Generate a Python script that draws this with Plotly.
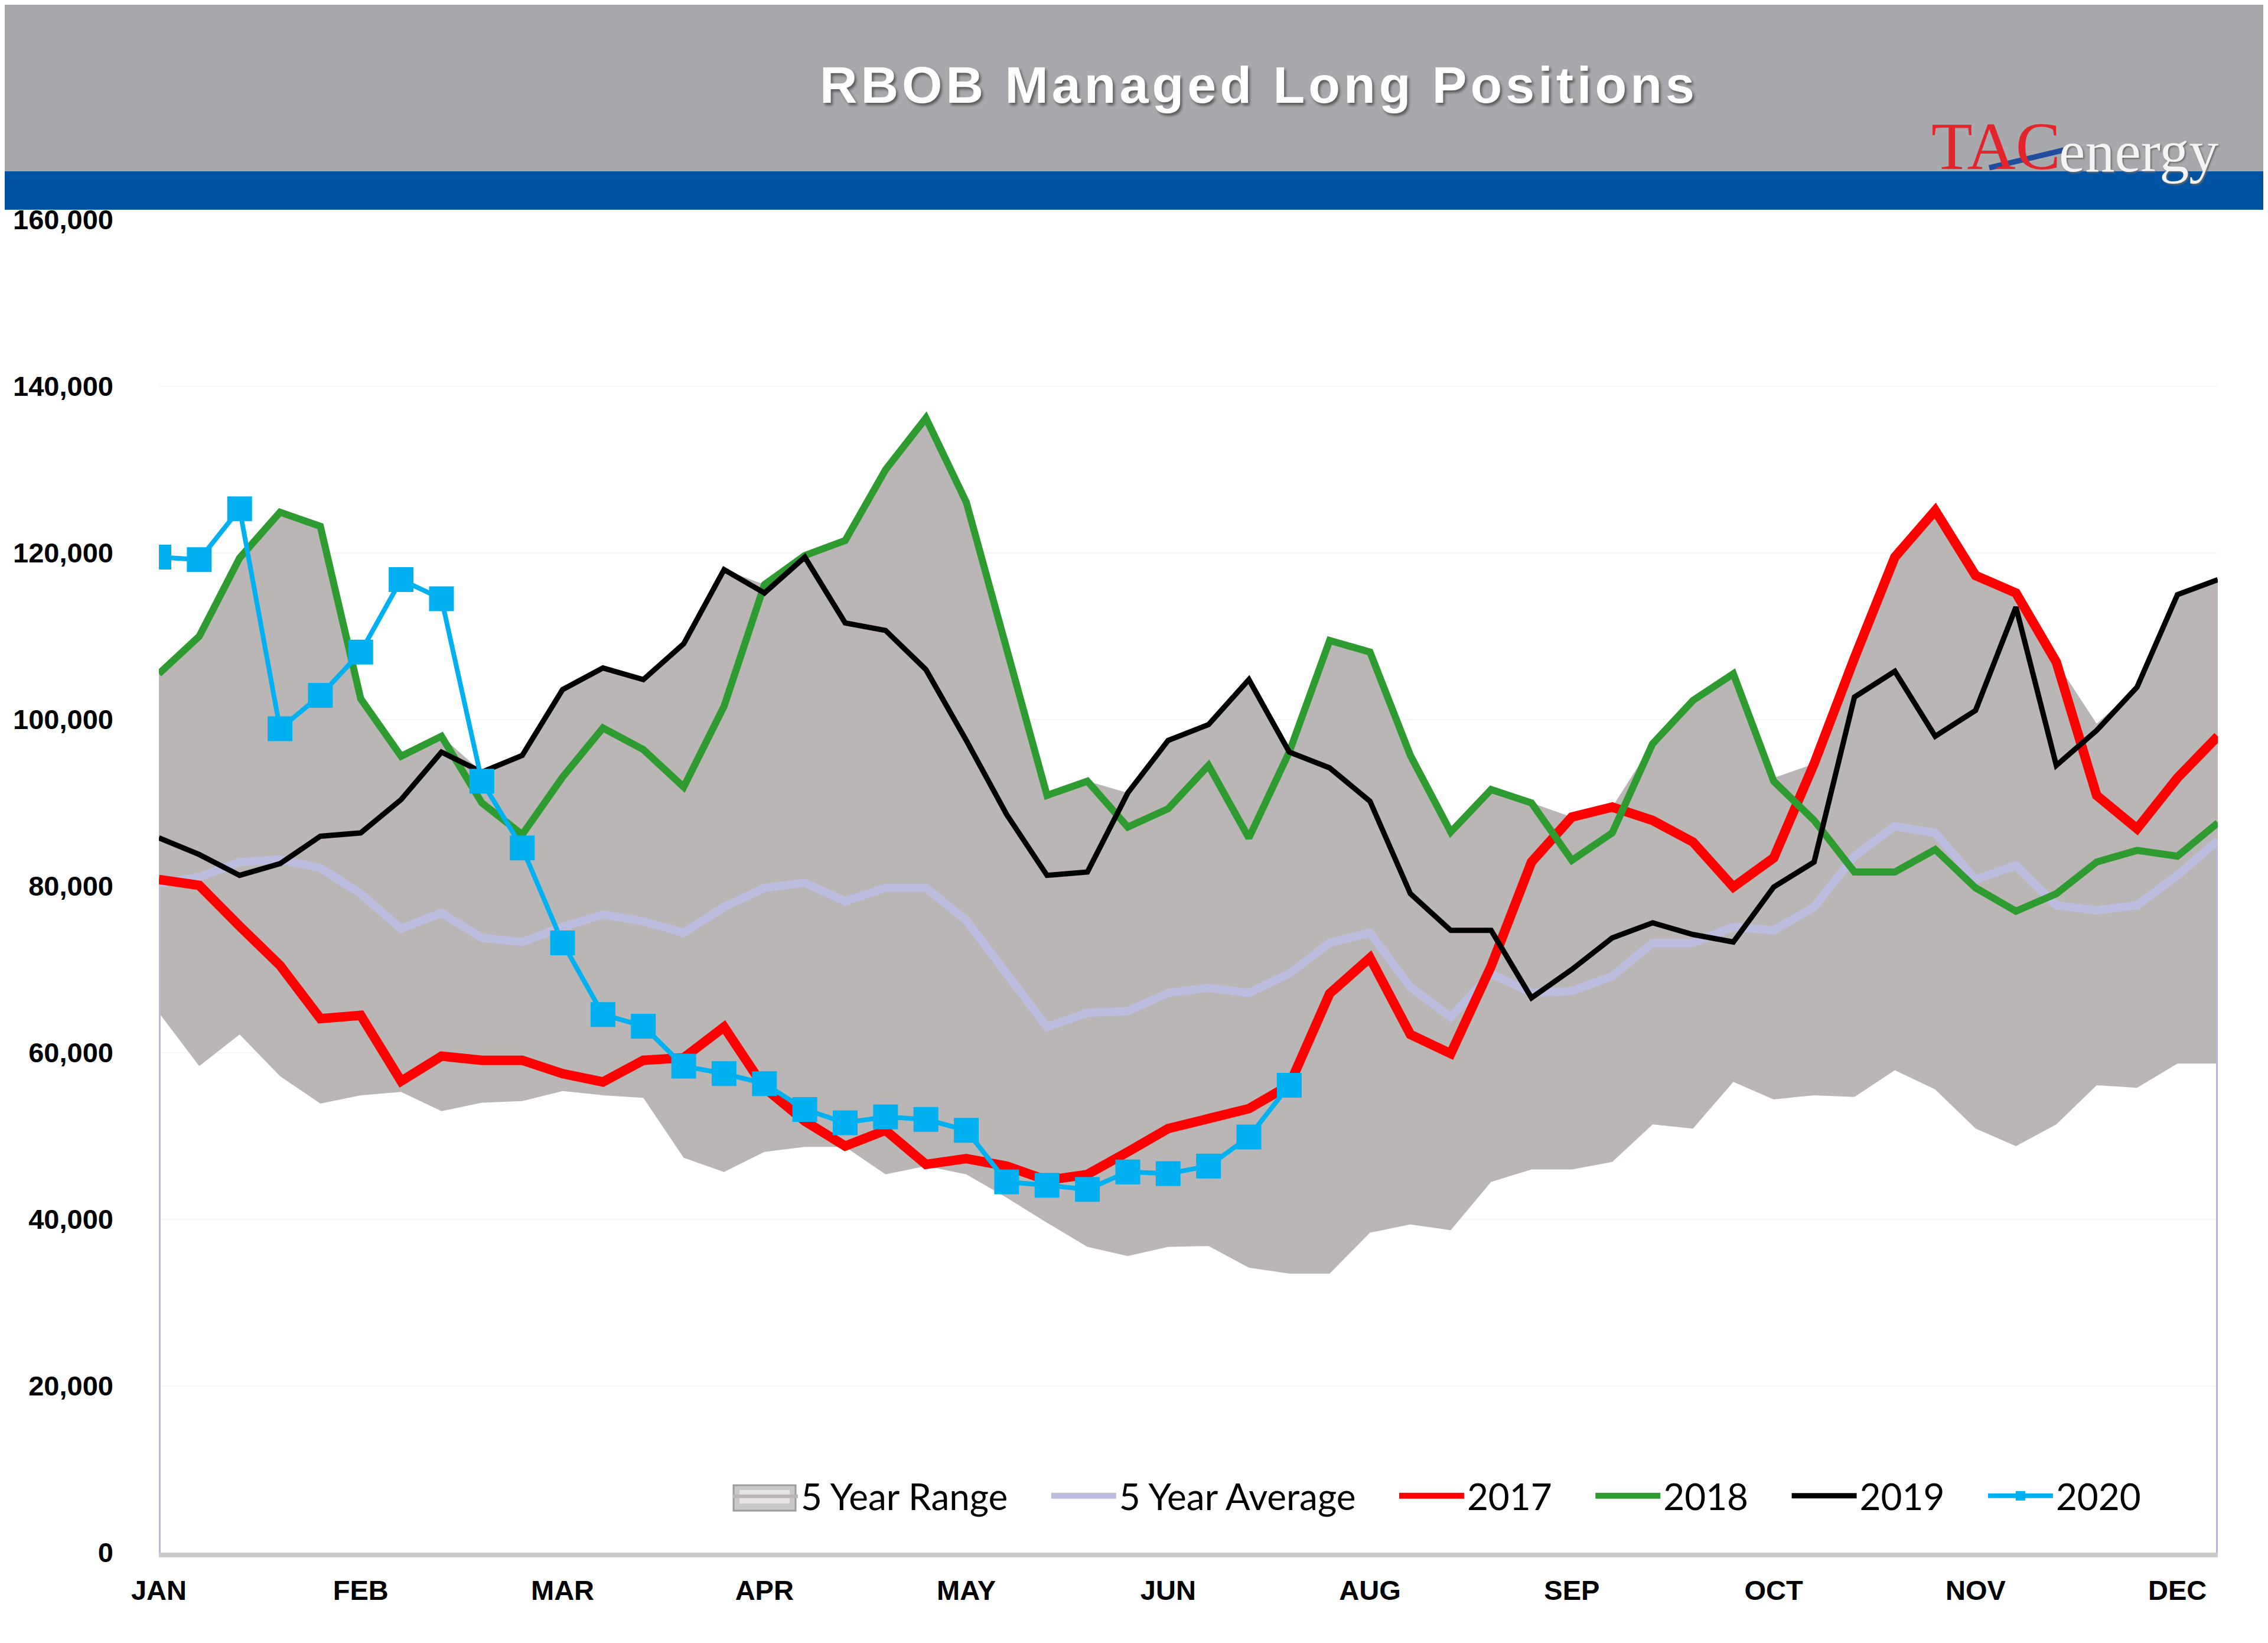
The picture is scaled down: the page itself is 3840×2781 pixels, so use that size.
import plotly.graph_objects as go

# ---------------- data ----------------
tick_pos = [0, 5, 10, 15, 20, 25, 30, 35, 40, 45, 50]
tick_text = ["JAN", "FEB", "MAR", "APR", "MAY", "JUN", "AUG", "SEP", "OCT", "NOV", "DEC"]
weeks = list(range(52))

range_low = [64800, 58400, 62200, 57200, 53900, 54900, 55300, 53000, 54000, 54200,
             55400, 54900, 54600, 47400, 45700, 48100, 48700, 48700, 45400, 46400,
             45400, 42600, 39600, 36700, 35600, 36700, 36800, 34200, 33500, 33500,
             38400, 39400, 38700, 44500, 46000, 46000, 46900, 51400, 50900, 56500,
             54400, 54900, 54700, 57900, 55600, 50900, 48800, 51400, 56100, 55800,
             58700, 58700]
range_high = [105500, 110000, 119400, 124900, 123200, 102500, 95600, 98000, 93700, 95700,
              103600, 106200, 104800, 109100, 118000, 116200, 119700, 121500, 130000, 136200,
              126100, 108400, 90900, 92600, 91200, 97500, 99400, 104800, 96100, 109500,
              108100, 95700, 86500, 91600, 90000, 88300, 89500, 97100, 102300, 105500,
              93000, 94700, 107400, 119500, 125100, 117300, 115200, 106900, 99500, 103900,
              115000, 116800]
avg5 = [80300, 81100, 82900, 83200, 82200, 79100, 74900, 76800, 73800, 73300,
        75100, 76600, 75800, 74400, 77500, 79800, 80400, 78200, 79800, 79800,
        75900, 69700, 63100, 64800, 65000, 67200, 67800, 67200, 69500, 73200,
        74400, 67900, 64300, 69500, 67200, 67400, 69200, 73200, 73200, 75100,
        74700, 77500, 83600, 87200, 86400, 80800, 82500, 77700, 77100, 77700,
        81300, 85500]
y2017 = [80800, 80100, 75200, 70500, 64100, 64500, 56600, 59600, 59100, 59100,
         57500, 56500, 59100, 59400, 63100, 55800, 51800, 48800, 50700, 46600,
         47300, 46400, 44700, 45400, 48100, 50900, 52100, 53300, 56100, 67100,
         71400, 62200, 59900, 70400, 82900, 88300, 89500, 87900, 85300, 79900,
         83400, 94700, 107400, 119500, 125100, 117300, 115200, 106900, 90900, 86900,
         93000, 98000]
y2018 = [105500, 110000, 119400, 124900, 123200, 102500, 95600, 98000, 90000, 86200,
         93100, 99000, 96400, 91900, 101600, 116200, 119700, 121500, 130000, 136200,
         126100, 108400, 90900, 92600, 87100, 89300, 94500, 85800, 96100, 109500,
         108100, 95700, 86500, 91600, 90000, 83100, 86400, 97100, 102300, 105500,
         92600, 87900, 81700, 81700, 84400, 79800, 77000, 79100, 82900, 84300,
         83600, 87600]
y2019 = [85800, 83800, 81300, 82700, 86000, 86400, 90400, 96100, 93700, 95700,
         103600, 106200, 104800, 109100, 118000, 115200, 119500, 111600, 110700, 106000,
         97500, 88600, 81300, 81700, 91200, 97500, 99400, 104800, 96100, 94200,
         90200, 79100, 74700, 74700, 66600, 70000, 73800, 75600, 74200, 73300,
         79900, 82900, 102700, 105800, 98000, 101100, 113500, 94500, 98700, 103900,
         115000, 116800]
y2020 = [119500, 119200, 125300, 98900, 102900, 108100, 116800, 114500, 92600, 84600,
         73200, 64600, 63200, 58400, 57500, 56300, 53200, 51600, 52300, 52000,
         50700, 44500, 44100, 43600, 45700, 45500, 46400, 49900, 56100]

TITLE = "RBOB Managed Long Positions"
NB = "\u00a0" * 4  # legend item spacing

# ---------------- geometry helpers (screen px -> paper) ----------------
OFF = 8                      # page body margin
W, H = 3840, 2781
ML = 269 - OFF
MT = 372 - OFF
MR = W - (3755 - OFF)
MB = H - (2628 - OFF)
PW = W - ML - MR
PH = H - MT - MB


def px(xs):
    return (xs - OFF - ML) / PW


def py(ys):
    return (H - MB - (ys - OFF)) / PH


FONT = "Liberation Sans, Arial, sans-serif"
LFONT = "Lato, Liberation Sans, sans-serif"

fig = go.Figure()

# 5 year range (band)
fig.add_trace(go.Scatter(x=weeks, y=range_low, mode="lines", line=dict(width=0),
                         showlegend=False, hoverinfo="skip"))
fig.add_trace(go.Scatter(x=weeks, y=range_high, mode="lines", line=dict(width=0),
                         fill="tonexty", fillcolor="#BAB6B5", name="5 Year Range" + NB))

# edge drop lines of the average
fig.add_trace(go.Scatter(x=[weeks[0], weeks[0]], y=[0, avg5[0]], mode="lines",
                         line=dict(color="#B7B7D9", width=6), showlegend=False, hoverinfo="skip"))
fig.add_trace(go.Scatter(x=[weeks[-1], weeks[-1]], y=[0, avg5[-1]], mode="lines",
                         line=dict(color="#B7B7D9", width=6), showlegend=False, hoverinfo="skip"))

fig.add_trace(go.Scatter(x=weeks, y=avg5, mode="lines", name="5 Year Average" + NB,
                         line=dict(color="#BCBCDF", width=14)))
fig.add_trace(go.Scatter(x=weeks, y=y2017, mode="lines", name="2017" + NB,
                         line=dict(color="#FF0000", width=16)))
fig.add_trace(go.Scatter(x=weeks, y=y2018, mode="lines", name="2018" + NB,
                         line=dict(color="#2E9B30", width=12)))
fig.add_trace(go.Scatter(x=weeks, y=y2019, mode="lines", name="2019" + NB,
                         line=dict(color="#000000", width=9)))
fig.add_trace(go.Scatter(x=weeks[:len(y2020)], y=y2020, mode="lines+markers", name="2020",
                         line=dict(color="#00B0F0", width=8),
                         marker=dict(symbol="square", size=42, color="#00B0F0")))

shapes = [
    # grey header
    dict(type="rect", xref="paper", yref="paper", x0=px(-20), x1=px(W + 20),
         y0=py(290), y1=py(4), fillcolor="#A7A9AC", line=dict(width=0), layer="above"),
    # blue band
    dict(type="rect", xref="paper", yref="paper", x0=px(-20), x1=px(W + 20),
         y0=py(355), y1=py(290), fillcolor="#0052A3", line=dict(width=0), layer="above"),
    # logo swoosh
    dict(type="line", xref="paper", yref="paper", x0=px(3368), y0=py(284),
         x1=px(3494), y1=py(254), line=dict(color="#1F4E9E", width=9), layer="above"),
    # legend box for the 5 year range
    dict(type="rect", xref="paper", yref="paper", x0=px(1242), x1=px(1347),
         y0=py(2557), y1=py(2514), fillcolor="#C9C7C7", line=dict(color="#9C9C9C", width=3),
         layer="above"),
    dict(type="rect", xref="paper", yref="paper", x0=px(1252), x1=px(1337),
         y0=py(2545), y1=py(2522), fillcolor="#E6E4E4", line=dict(width=0),
         layer="above"),
]

annotations = [
    dict(text='<span style="letter-spacing:6px">' + TITLE + '</span>', xref="paper", yref="paper",
         x=px(2131), y=py(143), xanchor="center", yanchor="middle", showarrow=False,
         font=dict(family=FONT, size=88, color="white", weight="bold",
                   shadow="3px 4px 4px #5a5a5a")),
    dict(text="TAC", xref="paper", yref="paper", x=px(3268), y=py(248),
         xanchor="left", yanchor="middle", showarrow=False,
         font=dict(family="Liberation Serif, Times New Roman, serif", size=114, color="#E3242B")),
    dict(text="energy", xref="paper", yref="paper", x=px(3484), y=py(256),
         xanchor="left", yanchor="middle", showarrow=False,
         font=dict(family="Liberation Serif, Times New Roman, serif", size=100, color="#F4F4F4",
                   shadow="2px 2px 3px #6a6a6a")),
]

fig.update_layout(
    width=W, height=H,
    margin=dict(l=ML, r=MR, t=MT, b=MB, pad=0),
    paper_bgcolor="white", plot_bgcolor="white",
    font=dict(family=FONT, color="black"),
    shapes=shapes, annotations=annotations,
    showlegend=True,
    legend=dict(orientation="h", x=px(1236), xanchor="left", y=py(2532), yanchor="middle",
                font=dict(family=LFONT, size=62, color="black"), bgcolor="rgba(0,0,0,0)",
                itemwidth=110, tracegroupgap=0, traceorder="normal"),
    xaxis=dict(range=[0, 51], tickmode="array", tickvals=tick_pos, ticktext=tick_text,
               showgrid=False, zeroline=False, showline=True, linecolor="#CBCBCB", linewidth=8,
               ticks="", ticklabelstandoff=16,
               tickfont=dict(family=FONT, size=47, color="black", weight="bold")),
    yaxis=dict(range=[0, 160000], dtick=20000, tickformat=",", showgrid=True,
               gridcolor="#F6F6F6", gridwidth=2, zeroline=False, showline=False,
               ticks="", ticklabelstandoff=76,
               tickfont=dict(family=FONT, size=47, color="black", weight="bold")),
)

fig.write_html("out.html")
